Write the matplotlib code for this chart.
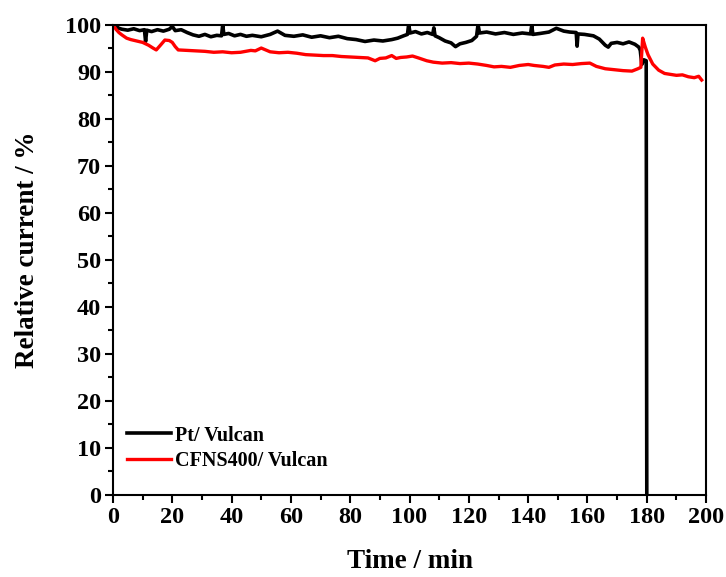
import matplotlib
matplotlib.use("Agg")
import matplotlib.pyplot as plt
from matplotlib.ticker import MultipleLocator

plt.rcParams['font.family'] = ['Liberation Serif', 'DejaVu Serif']
plt.rcParams['font.weight'] = 'bold'

# Chronoamperometric stability, relative current vs. time
pt_time = [0, 1, 2, 3, 5, 7, 9, 10.6, 11, 11.4, 13, 15, 17, 19, 20, 21, 23, 25, 27, 29,
           31, 33, 35, 36.6, 37, 37.4, 39, 41, 43, 45, 47, 50, 53, 55.5, 58, 61, 64, 67,
           70, 73, 76, 79, 82, 85, 88, 91, 94, 96, 98, 99.3, 99.7, 100.2, 102, 104, 106,
           107.8, 108.2, 108.6, 110, 112, 114, 115.5, 117, 119, 121, 122.6, 123.1, 123.6,
           126, 129, 132, 135, 138, 140.8, 141.2, 141.6, 144, 147, 149.5, 152, 154, 156.2,
           156.5, 156.8, 159, 162, 164, 166, 167, 168, 170, 172, 174, 176, 177.3, 177.8,
           178.3, 179, 179.8, 180]
pt_current = [100, 99.6, 99.2, 99.0, 98.8, 99.1, 98.7, 98.9, 96.4, 98.8, 98.5, 98.9, 98.6,
              99.0, 99.6, 98.7, 98.9, 98.3, 97.8, 97.5, 97.9, 97.4, 97.7, 97.6, 99.9, 97.9,
              98.1, 97.6, 97.9, 97.5, 97.7, 97.4, 97.9, 98.6, 97.7, 97.5, 97.8, 97.3, 97.6,
              97.2, 97.5, 97.0, 96.8, 96.4, 96.7, 96.5, 96.8, 97.1, 97.6, 97.9, 100, 98.2,
              98.5, 98.0, 98.3, 97.9, 99.3, 97.6, 97.2, 96.5, 96.1, 95.3, 95.9, 96.2, 96.6,
              97.5, 100, 98.2, 98.4, 98.0, 98.3, 97.9, 98.2, 98.0, 99.8, 97.9, 98.1, 98.4,
              99.2, 98.6, 98.4, 98.3, 95.4, 98.0, 97.9, 97.6, 96.9, 95.6, 95.2, 96.0, 96.2,
              95.9, 96.3, 95.8, 95.2, 94.5, 91.5, 92.5, 92.3, 0]

cfns_time = [0, 1, 2, 3, 4.6, 6, 8, 10, 12, 13.5, 14.6, 16, 17.5, 19, 20, 21, 22, 25, 28,
             31, 34, 37, 40, 43, 46.5, 48, 50, 51.5, 53, 56, 59, 62, 65, 68, 71, 74, 77, 80,
             83, 86, 88.4, 90, 92, 94, 95.5, 97, 99, 101, 103, 105.8, 108, 111, 114, 117,
             120, 123, 126, 128.5, 131, 134, 137, 140, 142, 145, 147, 149, 152, 155, 158,
             160.8, 163, 166, 169, 172, 175, 177, 178, 178.6, 179.5, 180.4, 182, 184, 186,
             188, 190, 192, 194, 196, 197.5, 198.5]
cfns_current = [100, 99.0, 98.3, 97.8, 97.1, 96.8, 96.5, 96.2, 95.6, 95.0, 94.6, 95.6, 96.7,
                96.6, 96.2, 95.3, 94.6, 94.5, 94.4, 94.3, 94.1, 94.2, 94.0, 94.1, 94.5, 94.4,
                95.0, 94.6, 94.2, 94.0, 94.1, 93.9, 93.6, 93.5, 93.4, 93.4, 93.2, 93.1, 93.0,
                92.9, 92.3, 92.8, 92.9, 93.4, 92.8, 93.0, 93.1, 93.3, 92.9, 92.3, 92.0, 91.8,
                91.9, 91.7, 91.8, 91.6, 91.3, 91.0, 91.1, 90.9, 91.3, 91.5, 91.3, 91.1, 90.9,
                91.4, 91.6, 91.5, 91.7, 91.8, 91.1, 90.6, 90.4, 90.2, 90.1, 90.6, 90.9, 97.1,
                95.2, 93.6, 91.6, 90.3, 89.6, 89.4, 89.2, 89.3, 88.9, 88.7, 89.0, 88.2]

fig = plt.figure(figsize=(7.26, 5.77), dpi=100)
ax = fig.add_axes([0.1556, 0.1421, 0.817, 0.8154])

ax.plot(pt_time, pt_current, color='black', lw=2.6, label='Pt/ Vulcan')
ax.plot(cfns_time, cfns_current, color='red', lw=2.4, label='CFNS400/ Vulcan')

ax.set_xlim(0, 200)
ax.set_ylim(0, 100)
ax.xaxis.set_major_locator(MultipleLocator(20))
ax.xaxis.set_minor_locator(MultipleLocator(10))
ax.yaxis.set_major_locator(MultipleLocator(10))
ax.yaxis.set_minor_locator(MultipleLocator(5))

ax.tick_params(which='both', direction='out', width=1.5, labelsize=17.5, pad=2.5)
ax.tick_params(which='major', length=6)
ax.tick_params(which='minor', length=3.5)
for sp in ax.spines.values():
    sp.set_linewidth(1.5)
for lab in ax.get_xticklabels() + ax.get_yticklabels():
    lab.set_fontweight('bold')

ax.set_xlabel('Time / min', fontsize=19.5, fontweight='bold', labelpad=15)
ax.set_ylabel('Relative current / %', fontsize=19.5, fontweight='bold')
ax.yaxis.set_label_coords(-0.123, 0.522)

ax.legend(loc='lower left', bbox_to_anchor=(0.0, 0.022), frameon=False,
          prop={'size': 14.5, 'weight': 'bold'}, handlelength=2.2,
          handletextpad=0.2, labelspacing=0.25, borderaxespad=0.3)

fig.savefig('out.png', dpi=100)
